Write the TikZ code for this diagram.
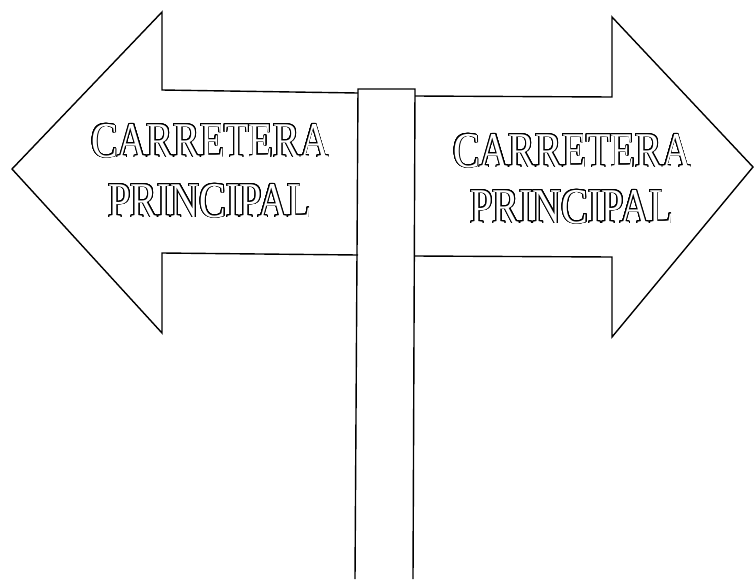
\documentclass[tikz,border=0pt]{standalone}
\usepackage{fontspec}
\usepackage{contour}
\newfontfamily\signfont[FakeStretch=0.8]{Liberation Serif}
\contourlength{0.9pt}
\contournumber{24}
\tikzset{
  edge/.style={line width=1.4pt, line join=miter},
  signtext/.style={text=white, font=\signfont\fontsize{50}{50}\selectfont, inner sep=0pt, anchor=base}
}
\newcommand{\outl}[1]{\contour{black}{#1}}
\begin{document}
\begin{tikzpicture}[x=1pt,y=-1pt]
\useasboundingbox (0,0) rectangle (755,579);
% left arrow
\draw[edge] (358,93) -- (162,90) -- (162,12) -- (12,169) -- (162,333) -- (162,253) -- (358,255);
% right arrow
\draw[edge] (415,96) -- (612,97) -- (612,17) -- (753,167) -- (612,337) -- (612,257) -- (415,256);
% post
\draw[edge] (355,579) -- (358,89) -- (415,89) -- (413,579);
% texts
\node[signtext] (l1) at (210,157) {\outl{CARRETERA}};
\node[signtext] (l2) at (210,217) {\outl{PRINCIPAL}};
\node[signtext] (r1) at (572,167) {\outl{CARRETERA}};
\node[signtext] (r2) at (572,223) {\outl{PRINCIPAL}};
\end{tikzpicture}
\end{document}
